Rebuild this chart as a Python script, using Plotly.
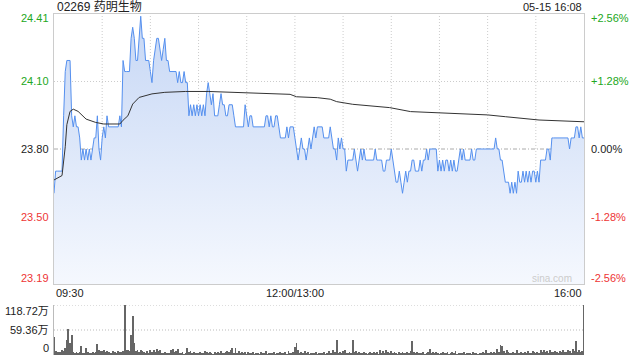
import plotly.graph_objects as go

# ---------------- data ----------------
stock_title = "02269 药明生物"
stamp = "05-15 16:08"
prev_close = 23.80
price_min, price_max = 23.19, 24.41
vol_max = 118.72  # 万

price_ticks = [24.41, 24.105, 23.80, 23.495, 23.19]
price_labels = ["24.41", "24.10", "23.80", "23.50", "23.19"]
pct_labels = ["+2.56%", "+1.28%", "0.00%", "-1.28%", "-2.56%"]
vol_ticks = [118.72, 59.36, 0]
vol_labels = ["118.72万", "59.36万", "0"]
time_ticks = [0, 150, 330]
time_labels = ["09:30", "12:00/13:00", "16:00"]
grid_minutes = [30, 60, 90, 120, 150, 180, 210, 240, 270, 300]

prices = [
    23.60, 23.70, 23.70, 23.70, 23.70, 23.70, 23.95, 24.15, 24.20, 24.20,
    24.20, 23.95, 23.90, 23.95, 23.90, 23.90, 23.85, 23.75, 23.80, 23.75,
    23.80, 23.75, 23.80, 23.75, 23.80, 23.85, 23.85, 23.95, 23.80, 23.75,
    23.85, 23.90, 23.85, 23.95, 23.90, 23.90, 23.90, 23.90, 23.90, 23.90,
    23.90, 23.95, 23.90, 24.20, 24.15, 24.15, 24.15, 24.15, 24.30, 24.35,
    24.30, 24.20, 24.20, 24.30, 24.40, 24.30, 24.30, 24.20, 24.20, 24.20,
    24.15, 24.10, 24.20, 24.25, 24.30, 24.30, 24.25, 24.20, 24.25, 24.30,
    24.20, 24.20, 24.15, 24.15, 24.15, 24.15, 24.15, 24.10, 24.15, 24.10,
    24.10, 24.15, 24.10, 24.10, 23.95, 24.00, 23.95, 24.00, 23.95, 24.00,
    23.95, 24.00, 23.95, 24.00, 23.95, 24.05, 24.10, 24.05, 24.00, 24.05,
    23.95, 23.95, 23.95, 24.00, 24.05, 24.00, 24.00, 23.95, 23.95, 24.00,
    24.00, 24.00, 23.95, 23.90, 23.90, 23.90, 23.90, 23.90, 23.90, 24.00,
    23.95, 23.90, 23.95, 23.95, 23.90, 23.90, 23.90, 23.90, 23.90, 23.90,
    23.90, 23.90, 23.95, 23.95, 23.90, 23.95, 23.90, 23.90, 23.95, 23.95,
    23.90, 23.85, 23.85, 23.85, 23.85, 23.90, 23.85, 23.90, 23.90, 23.90,
    23.85, 23.80, 23.75, 23.80, 23.85, 23.80, 23.80, 23.75, 23.80, 23.85,
    23.80, 23.85, 23.90, 23.85, 23.90, 23.90, 23.90, 23.90, 23.85, 23.85,
    23.85, 23.85, 23.90, 23.85, 23.80, 23.80, 23.75, 23.85, 23.80, 23.85,
    23.80, 23.80, 23.70, 23.75, 23.75, 23.75, 23.75, 23.80, 23.75, 23.70,
    23.75, 23.80, 23.75, 23.80, 23.75, 23.75, 23.75, 23.75, 23.75, 23.75,
    23.80, 23.75, 23.75, 23.75, 23.75, 23.70, 23.70, 23.75, 23.75, 23.75,
    23.80, 23.75, 23.70, 23.65, 23.65, 23.70, 23.65, 23.60, 23.65, 23.70,
    23.65, 23.70, 23.70, 23.75, 23.75, 23.70, 23.70, 23.70, 23.75, 23.70,
    23.75, 23.75, 23.80, 23.75, 23.80, 23.80, 23.80, 23.80, 23.80, 23.70,
    23.75, 23.70, 23.75, 23.70, 23.75, 23.75, 23.70, 23.75, 23.70, 23.75,
    23.70, 23.70, 23.75, 23.80, 23.75, 23.80, 23.75, 23.75, 23.75, 23.75,
    23.80, 23.75, 23.75, 23.80, 23.80, 23.80, 23.80, 23.80, 23.80, 23.80,
    23.80, 23.80, 23.80, 23.80, 23.80, 23.85, 23.80, 23.80, 23.75, 23.75,
    23.70, 23.65, 23.65, 23.65, 23.60, 23.65, 23.60, 23.65, 23.60, 23.70,
    23.65, 23.65, 23.70, 23.65, 23.70, 23.65, 23.70, 23.65, 23.70, 23.70,
    23.65, 23.70, 23.65, 23.75, 23.75, 23.75, 23.75, 23.80, 23.80, 23.75,
    23.85, 23.85, 23.85, 23.85, 23.85, 23.85, 23.85, 23.85, 23.85, 23.85,
    23.85, 23.80, 23.85, 23.85, 23.85, 23.90, 23.90, 23.85, 23.90, 23.85, 23.85,
]
minutes = list(range(len(prices)))

avg_minutes = [0, 5, 7, 8, 10, 12, 15, 20, 26, 31, 41, 43, 46, 49, 53, 61, 69, 82,
               96, 110, 147, 151, 164, 172, 176, 186, 209, 222, 270, 281, 302, 330]
avg_values = [23.66, 23.68, 23.81, 23.91, 23.97, 23.98, 23.97, 23.935, 23.92, 23.913,
              23.913, 23.93, 23.95, 24.003, 24.033, 24.049, 24.056, 24.06,
              24.06, 24.056, 24.047, 24.036, 24.032, 24.025, 24.014, 24.002,
              23.987, 23.969, 23.954, 23.946, 23.931, 23.923]

volumes = [
    43, 9, 6, 8, 7, 11, 9, 16, 36, 61, 28, 47, 6, 5, 7, 4, 6, 21, 5, 4, 16, 6, 3, 5, 8, 4, 6, 26, 12, 10,
    9, 11, 6, 10, 8, 5, 4, 9, 7, 5, 10, 8, 6, 9, 118.72, 13, 13, 9, 47, 92, 29, 9, 12, 8, 11, 10, 6, 4, 9, 5,
    12, 8, 12, 6, 14, 9, 12, 5, 3, 8, 4, 3, 5, 12, 14, 6, 9, 15, 4, 3, 6, 2, 5, 16, 7, 9, 4, 6, 3, 5,
    4, 7, 3, 5, 9, 6, 3, 8, 4, 2, 6, 3, 7, 4, 9, 5, 3, 6, 10, 8, 12, 16, 5, 16, 3, 9, 4, 6, 3, 8,
    2, 6, 4, 3, 7, 2, 5, 3, 2, 6, 4, 3, 9, 2, 5, 3, 4, 6, 2, 5, 3, 7, 4, 3, 6, 2, 9, 4, 3, 7,
    20, 29, 12, 5, 8, 4, 10, 3, 6, 2, 5, 4, 3, 6, 2, 4, 5, 3, 7, 2, 5, 9, 4, 3, 11, 6, 36, 4, 7, 3,
    9, 12, 5, 4, 8, 3, 36, 6, 9, 4, 7, 5, 3, 6, 4, 2, 5, 7, 3, 8, 4, 6, 2, 11, 5, 9, 4, 12, 6, 3,
    9, 4, 7, 5, 2, 6, 4, 8, 3, 5, 6, 4, 9, 33, 6, 3, 7, 4, 5, 3, 6, 2, 5, 7, 14, 4, 8, 3, 6, 5,
    2, 4, 7, 3, 5, 8, 2, 4, 6, 3, 9, 2, 5, 4, 3, 6, 2, 4, 3, 5, 2, 6, 3, 4, 2, 5, 3, 7, 4, 12,
    3, 5, 6, 4, 8, 5, 15, 7, 24, 21, 9, 4, 11, 6, 5, 3, 8, 4, 12, 5, 3, 7, 4, 6, 3, 9, 5, 4, 10, 6,
    4, 8, 5, 11, 6, 13, 7, 9, 4, 12, 8, 6, 10, 7, 5, 9, 6, 11, 8, 7, 12, 9, 5, 14, 10, 33, 8, 12, 6, 9, 118.72,
]

# ---------------- figure ----------------
W, H = 640, 360
x0p, x1p = 54 / W, 584 / W
main_dom = [1 - 284 / H, 1 - 14 / H]
vol_dom = [1 - 355 / H, 1 - 305 / H]
FONT = "Liberation Sans, Arial, Noto Sans CJK SC, sans-serif"
GREEN, RED, BLACK = "#22a722", "#ee3535", "#222222"

fig = go.Figure()
fig.add_trace(go.Scatter(
    x=minutes, y=prices, mode="lines",
    line=dict(color="#5590ef", width=1),
    fill="tozeroy",
    fillgradient=dict(type="vertical",
                      colorscale=[[0, "rgb(245,248,254)"], [1, "rgb(198,215,245)"]],
                      start=price_min, stop=price_max),
    xaxis="x", yaxis="y", hoverinfo="skip"))
fig.add_trace(go.Scatter(
    x=avg_minutes, y=avg_values, mode="lines",
    line=dict(color="#333333", width=1),
    xaxis="x", yaxis="y", hoverinfo="skip"))
fig.add_trace(go.Bar(
    x=minutes, y=volumes, width=0.6, marker=dict(color="#666666", line=dict(width=0)),
    xaxis="x2", yaxis="y2", hoverinfo="skip"))

shapes = []
for i, v in enumerate(price_ticks[1:-1]):
    if v == prev_close:
        shapes.append(dict(type="line", xref="x domain", x0=0, x1=1, yref="y", y0=v, y1=v,
                           line=dict(color="#aaaaaa", width=1, dash="4px,2px,1px,2px"), layer="below"))
    else:
        shapes.append(dict(type="line", xref="x domain", x0=0, x1=1, yref="y", y0=v, y1=v,
                           line=dict(color="#cccccc", width=1, dash="1px,2px"), layer="below"))
for t in grid_minutes:
    shapes.append(dict(type="line", xref="x", x0=t, x1=t, yref="y domain", y0=0, y1=1,
                       line=dict(color="#cccccc", width=1, dash="1px,2px"), layer="below"))
for v in vol_ticks[:-1]:
    shapes.append(dict(type="line", xref="x2 domain", x0=0, x1=1, yref="y2", y0=v, y1=v,
                       line=dict(color="#bbbbbb", width=1, dash="1px,2px"), layer="below"))

def col(i):
    return GREEN if i < 2 else (BLACK if i == 2 else RED)

ann = []
ann.append(dict(text=stock_title, xref="paper", yref="paper", x=55 / W, y=1 - 7 / H,
                xanchor="left", yanchor="middle", showarrow=False,
                font=dict(family=FONT, size=12, color=BLACK)))
ann.append(dict(text=stamp, xref="paper", yref="paper", x=584 / W, y=1 - 7 / H,
                xanchor="right", yanchor="middle", showarrow=False,
                font=dict(family=FONT, size=11, color=BLACK)))
for i, (v, lab, pl) in enumerate(zip(price_ticks, price_labels, pct_labels)):
    ys = -4 if i == 0 else (6 if i == len(price_ticks) - 1 else 0)
    ann.append(dict(text=lab, xref="paper", yref="y", x=x0p, y=v, xshift=-3, yshift=ys,
                    xanchor="right", yanchor="middle", showarrow=False,
                    font=dict(family=FONT, size=11, color=col(i))))
    ann.append(dict(text=pl, xref="paper", yref="y", x=x1p, y=v, xshift=5, yshift=ys,
                    xanchor="left", yanchor="middle", showarrow=False,
                    font=dict(family=FONT, size=11, color=col(i))))
anchors = ["left", "center", "right"]
for t, lab, a in zip(time_ticks, time_labels, anchors):
    ann.append(dict(text=lab, xref="x", yref="paper", x=t, y=1 - 293 / H,
                    xanchor=a, yanchor="middle", showarrow=False,
                    font=dict(family=FONT, size=11, color=BLACK)))
for i, (v, lab) in enumerate(zip(vol_ticks, vol_labels)):
    ys = -6 if i == 0 else (7 if i == len(vol_ticks) - 1 else 0)
    ann.append(dict(text=lab, xref="paper", yref="y2", x=x0p, y=v, xshift=-3, yshift=ys,
                    xanchor="right", yanchor="middle", showarrow=False,
                    font=dict(family=FONT, size=11, color=BLACK)))
ann.append(dict(text="sina.com", xref="paper", yref="y", x=x1p, y=price_min, xshift=-10, yshift=6,
                xanchor="right", yanchor="middle", showarrow=False,
                font=dict(family=FONT, size=10, color="#cccccc")))

fig.update_layout(
    width=W, height=H, margin=dict(l=0, r=0, t=0, b=0),
    paper_bgcolor="white", plot_bgcolor="rgba(0,0,0,0)", showlegend=False,
    shapes=shapes, annotations=ann, bargap=0,
    xaxis=dict(domain=[x0p, x1p], range=[0, 330], anchor="y", showgrid=False, zeroline=False,
               showticklabels=False, ticks="", showline=True, mirror=True, linecolor="#cccccc"),
    yaxis=dict(domain=main_dom, range=[price_min, price_max], anchor="x", showgrid=False,
               zeroline=False, showticklabels=False, ticks="", showline=True, mirror=True,
               linecolor="#cccccc"),
    xaxis2=dict(domain=[x0p, x1p], range=[0, 330], anchor="y2", showgrid=False, zeroline=False,
                showticklabels=False, ticks="", showline=False),
    yaxis2=dict(domain=vol_dom, range=[0, vol_max], anchor="x2", showgrid=False, zeroline=False,
                showticklabels=False, ticks="", showline=True, linecolor="#bbbbbb"),
)

fig.write_html("out.html")
